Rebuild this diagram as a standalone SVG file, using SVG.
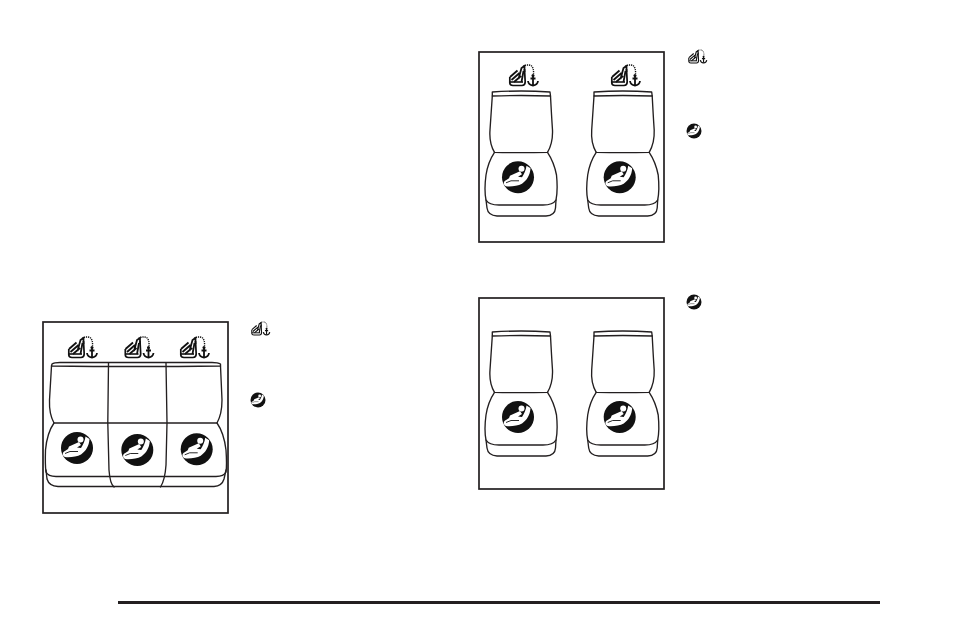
<svg xmlns="http://www.w3.org/2000/svg" width="954" height="636" viewBox="0 0 954 636">
<style>
.frame{fill:#fff;stroke:#231f20;stroke-width:1.7}
.seat{fill:none;stroke:#231f20;stroke-width:1.35;stroke-linejoin:round;stroke-linecap:round}
</style>
<defs>
<symbol id="badge" viewBox="-16 -16 32 32" overflow="visible">
<circle r="16" fill="#111"/>
<circle cx="3.5" cy="-8.5" r="3" fill="#fff"/>
<path d="M8.5 -11.5 L12.5 -9 C12 -2 9 3 4 6.5 C0 9 -8 9.5 -12 9 C-15 8 -15 4 -12 3 L-9 1 L-8 -1.5 L2 -6 L4 -3 L0 -0.5 L4 0 C6 -3 8 -7 8.5 -11.5Z" fill="#fff"/>
<path d="M-12 5.5 L-7 3.5 L1 3.5" fill="none" stroke="#111" stroke-width="0.9"/>
</symbol>
<symbol id="latch" viewBox="0 0 29 22" overflow="visible">
<path d="M0.8 12 L0.8 18 Q1 20.5 4 20.5 L13 20.5 Q16 20.5 16.2 17 L15.5 4" fill="none" stroke="#111" stroke-width="1.7"/>
<path d="M1 12 L8.5 5.5 M2.5 15 L10.5 8 M5 17 L12 11 M9.5 14 L12.5 3 L15.5 1 L15.5 7 M12.5 17 L14.5 6" fill="none" stroke="#111" stroke-width="1.8"/>
<path d="M1 17 L14 17" stroke="#111" stroke-width="1.6"/>
<path d="M14 1.5 Q18 -1 22 0.5 Q25 3 24.5 9" fill="none" stroke="#111" stroke-width="1.4" stroke-dasharray="1.2 0.9"/>
<circle cx="24" cy="10.5" r="1.5" fill="#111"/>
<path d="M24 10 L24 20 M21.5 13.5 L26.5 13.5" stroke="#111" stroke-width="1.8"/>
<path d="M19 16 Q19.5 20 24 20.5 Q28.5 20 29 16" fill="none" stroke="#111" stroke-width="1.8"/>
</symbol>
<g id="single">
<path class="seat" d="M492.3 92 Q521 90 550 92 L550.5 96 Q521 95 492.3 96Z"/>
<path class="seat" d="M492.3 96 Q491 115 490 130 Q489 143 494.5 152.3 Q521 153 547.5 152.3 Q553 143 552.5 130 Q551.5 115 550.5 96"/>
<path class="seat" d="M494.5 152.3 Q488 162 486 175 Q484 190 486 200 Q489 205 499 205 L543 205 Q553 205 556 200 Q558 190 556.5 175 Q554 162 547.5 152.3"/>
<path class="seat" d="M486 200 L487 208 Q488 215.5 497 216 L546 216 Q555 215.5 555.5 208 L556 200"/>
</g>
</defs>
<rect width="954" height="636" fill="#fff"/>

<g id="panel-three-seats">
<rect class="frame" x="43" y="322" width="185" height="191"/>
<g id="bench">
<path class="seat" d="M51.5 366 L52 364 Q54 362.5 60 362.5 L212 362.5 Q218 362.5 220.5 364 L220.5 366 Q135 367 51.5 366Z"/>
<path class="seat" d="M51.5 366 L49.5 400 Q49 414 54 423 L217 423 Q222 414 222 400 L220.5 366"/>
<path class="seat" d="M54 423 Q47 433 45.5 450 Q45 465 46 472 Q48 476.5 56 476.5 L216 476.5 Q224 476.5 226 472 Q227 465 226 450 Q224 433 217 423"/>
<path class="seat" d="M46 470 L47 479 Q49 486 58 486.5 L214 486.5 Q222 486 224 479 L226 470"/>
<path class="seat" d="M108.5 363 L107.8 423 L109 470 Q110 484 114 487 M166 363 L167 423 L166 465 Q165 480 160.5 487"/>
</g>
<use href="#latch" x="68" y="337" width="29" height="22"/>
<use href="#latch" x="124.5" y="337" width="29" height="22"/>
<use href="#latch" x="180" y="337" width="29" height="22"/>
<use href="#badge" x="61" y="432" width="32" height="32"/>
<use href="#badge" x="121.3" y="434" width="32" height="32"/>
<use href="#badge" x="180.7" y="433.3" width="32" height="32"/>
<use href="#latch" x="251" y="322" width="19" height="14"/>
<use href="#badge" x="250.5" y="392.5" width="15" height="15"/>
</g>

<g id="panel-two-seats-latch">
<rect class="frame" x="479" y="52" width="185" height="190"/>
<use href="#single"/>
<use href="#single" x="101.7"/>
<use href="#latch" x="509" y="65" width="29" height="22"/>
<use href="#latch" x="611" y="65" width="29" height="22"/>
<use href="#badge" x="502" y="161.3" width="32" height="32"/>
<use href="#badge" x="603.7" y="161.3" width="32" height="32"/>
<use href="#latch" x="688" y="50" width="19" height="14"/>
<use href="#badge" x="686.5" y="123.5" width="15" height="15"/>
</g>

<g id="panel-two-seats">
<rect class="frame" x="479" y="298" width="185" height="191"/>
<use href="#single" y="240"/>
<use href="#single" x="101.7" y="240"/>
<use href="#badge" x="502" y="401" width="32" height="32"/>
<use href="#badge" x="603.7" y="401" width="32" height="32"/>
<use href="#badge" x="686.5" y="294.5" width="15" height="15"/>
</g>

<rect id="footer-rule" x="118" y="601" width="762" height="3" fill="#231f20"/>
</svg>
